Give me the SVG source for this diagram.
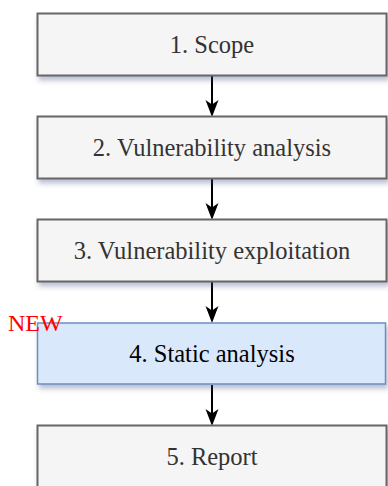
<svg xmlns="http://www.w3.org/2000/svg" width="388" height="486" viewBox="0 0 388 486">
<style>
.box{fill:#f5f5f5;stroke:#666666;stroke-width:2;filter:url(#sh)}
.blue{fill:#dae8fc;stroke:#6c8ebf;stroke-width:1.5;filter:url(#sh)}
.lbl{font-family:"Liberation Serif",serif;font-size:24.5px;fill:#333333;text-anchor:middle}
.lbl2{font-family:"Liberation Serif",serif;font-size:24.5px;fill:#000000;text-anchor:middle}
.edge{stroke:#000;stroke-width:2;fill:none}
.head{fill:#000}
</style>
<defs>
<filter id="sh" x="-10%" y="-20%" width="120%" height="160%">
<feDropShadow dx="2" dy="4" stdDeviation="2.5" flood-color="#3a4a80" flood-opacity="0.35"/>
</filter>
</defs>
<rect width="388" height="486" fill="#ffffff"/>
<g id="connectors">
<path class="edge" d="M212,76 V108"/>
<path class="head" d="M205.5,100 L212,104.5 L218.5,100 L212,117 Z"/>
<path class="edge" d="M212,179 V211"/>
<path class="head" d="M205.5,203 L212,207.5 L218.5,203 L212,220 Z"/>
<path class="edge" d="M212,282 V314"/>
<path class="head" d="M205.5,306 L212,310.5 L218.5,306 L212,323 Z"/>
<path class="edge" d="M212,385 V417"/>
<path class="head" d="M205.5,409 L212,413.5 L218.5,409 L212,426 Z"/>
</g>
<g id="n1">
<rect class="box" x="37.5" y="13.5" width="349" height="62"/>
<text class="lbl" x="212" y="53">1. Scope</text>
</g>
<g id="n2">
<rect class="box" x="37.5" y="116.5" width="349" height="62"/>
<text class="lbl" x="212" y="156">2. Vulnerability analysis</text>
</g>
<g id="n3">
<rect class="box" x="37.5" y="219.5" width="349" height="62"/>
<text class="lbl" x="212" y="259">3. Vulnerability exploitation</text>
</g>
<g id="n4">
<rect class="blue" x="37.5" y="323" width="348" height="61"/>
<text class="lbl2" x="212" y="362">4. Static analysis</text>
</g>
<g id="new">
<text x="8" y="331" font-family="Liberation Serif, serif" font-size="24" fill="#ff0000">NEW</text>
</g>
<g id="n5">
<rect class="box" x="37.5" y="425.5" width="349" height="62"/>
<text class="lbl" x="212" y="465">5. Report</text>
</g>
</svg>
